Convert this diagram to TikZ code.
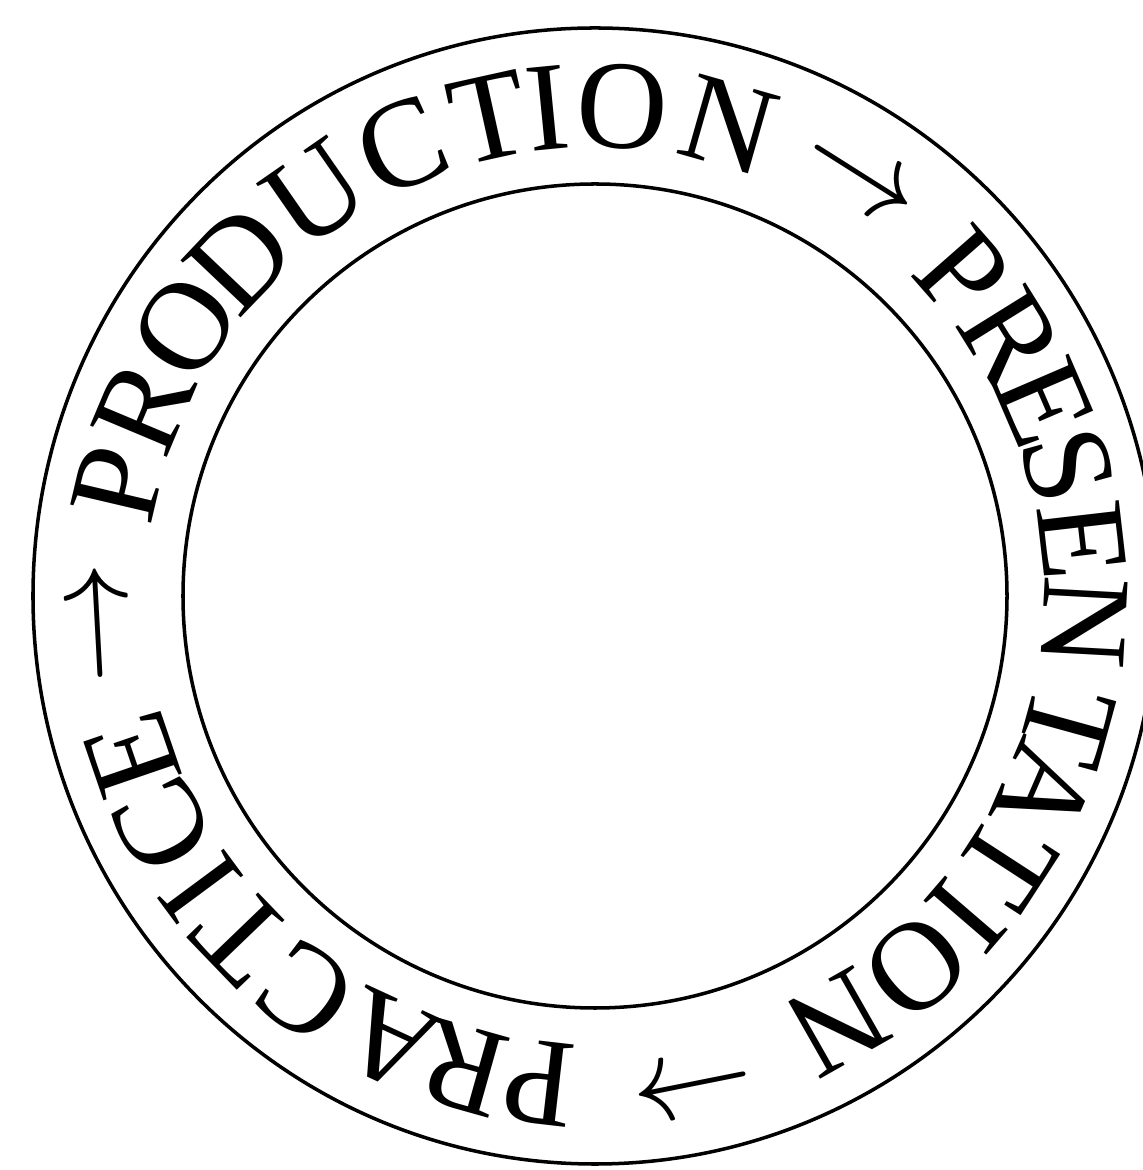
\documentclass[tikz,border=0pt]{standalone}
\usepackage{fontspec}
\setmainfont{Liberation Serif}
\usepackage{tikz}

\newcommand{\cyclearrow}{\scalebox{1.4}{$\rightarrow$}}

\begin{document}
\begin{tikzpicture}[line width=1pt, glyph/.style={inner sep=0pt, font=\fontsize{36}{40}\selectfont}]
  \useasboundingbox (-5.95,-5.74) rectangle (5.47,5.96);
  \coordinate (ctr) at (0,0);
  \draw (ctr) circle (4.12);
  \draw (ctr) ellipse [x radius=5.62, y radius=5.68];
  \foreach \c/\a [count=\k] in {P/166.8, R/157.2, O/146.7, D/136.5, U/124.8, C/113.2, T/102.5, I/95.6, O/86.8, N/74.1,
      \cyclearrow/57.7,
      P/41.3, R/31.9, E/23.3, S/15.4, E/6.6, N/-3.1, T/-15.4, A/-23.5, T/-33.0, I/-40.7, O/-49.1, N/-60.4,
      \cyclearrow/-78.7,
      P/-96.6, R/-105.7, A/-114.8, C/-126.2, T/-136.1, I/-143.5, C/-152.0, E/-161.1,
      \cyclearrow/-176.9} {
    \node[glyph, rotate=\a-90] (g\k) at (\a:4.9) {\c};}
\end{tikzpicture}
\end{document}
